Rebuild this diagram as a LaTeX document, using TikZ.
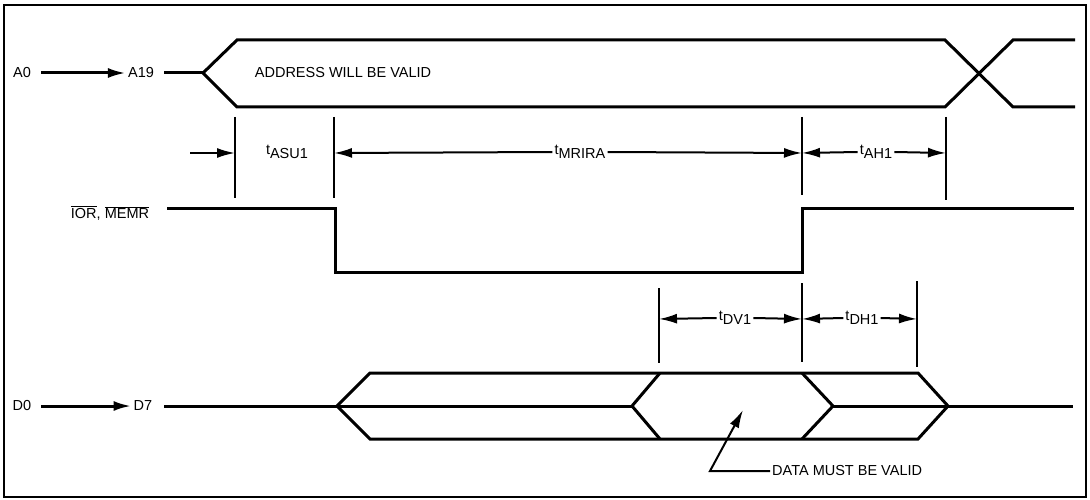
\documentclass[tikz,border=0pt]{standalone}
\usepackage{fontspec}
\setmainfont{Liberation Sans}
\usepackage{tikz}
\usetikzlibrary{arrows.meta,positioning}

% subscripted timing name, e.g. t_ASU1
\newcommand{\tname}[1]{t\raisebox{-0.5ex}{#1}}

\begin{document}
\begin{tikzpicture}[x=1pt, y=-1pt,
    every node/.style={font=\fontsize{14.5}{16}\selectfont, inner sep=2pt},
    sig/.style={line width=3pt, line join=miter},
    tick/.style={line width=2pt},
    dim/.style={line width=2pt, -{Latex[length=18pt,width=10pt]}},
    lead/.style={line width=3pt, shorten <=8pt, -{Latex[length=18pt,width=10pt]}}]

\useasboundingbox (0,0) rectangle (1090,500);

% Frame
\draw[line width=2.8pt] (4,5) rectangle (1086,497);

% Signal names
\node (a0) at (22,73) {A0};
\node (a19) at (141,73) {A19};
\draw[lead] (a0) -- (a19);
\node (ior) at (110,213) {$\overline{\mbox{IOR}}$, $\overline{\mbox{MEMR}}$};
\node (d0) at (22,406) {D0};
\node (d7) at (143,406) {D7};
\draw[lead] (d0) -- (d7);

% Address bus
\draw[sig] (a19.east) ++(8,0) -- (203,73);
\draw[sig] (203,73) -- (237,40) -- (945,40) -- (1013,107) -- (1075,107);
\draw[sig] (203,73) -- (237,107) -- (945,107) -- (1013,40) -- (1075,40);
\node (addr) at (343,73) {ADDRESS WILL BE VALID};

% IOR, MEMR strobe
\draw[sig] (167,208) -- (335,208) -- (335,272) -- (802,272) -- (802,208) -- (1074,208);

% Data bus
\draw[sig] (337,406) -- (370,373) -- (918,373) -- (948,406) -- (918,439) -- (370,439) -- cycle;
\draw[sig] (660,373) -- (632,406) -- (660,439);
\draw[sig] (802,373) -- (833,406) -- (802,439);
\draw[sig] (d7.east) ++(10,0) -- (632,406);
\draw[sig] (833,406) -- (1073,406);

% Timing ticks (top)
\foreach \x/\y in {235/198, 334/198, 802/195, 946/200}
    \draw[tick] (\x,117) -- (\x,\y);
% Timing ticks (bottom)
\foreach \x/\a/\b in {659/288/363, 802/283/362, 917/281/367}
    \draw[tick] (\x,\a) -- (\x,\b);

% Dimension points
\coordinate (asuL) at (235,153);
\coordinate (asuR) at (334,153);
\coordinate (ahR) at (946,153);
\coordinate (rdL) at (802,153);
\coordinate (dvL) at (659,319);
\coordinate (dvR) at (802,319);
\coordinate (dhR) at (917,319);

% Timing labels
\node (asu) at (287,152) {\tname{ASU1}};
\node (mrira) at (580,152) {\tname{MRIRA}};
\node (ah) at (876,152) {\tname{AH1}};
\node (dv) at (735,318) {\tname{DV1}};
\node (dh) at (862,318) {\tname{DH1}};

\draw[dim] (190,153) -- (asuL);
\draw[dim] (mrira.west) -- (asuR);
\draw[dim] (mrira.east) -- (rdL);
\draw[dim] (ah.west) -- (rdL);
\draw[dim] (ah.east) -- (ahR);
\draw[dim] (dv.west) -- (dvL);
\draw[dim] (dv.east) -- (dvR);
\draw[dim] (dh.west) -- (dvR);
\draw[dim] (dh.east) -- (dhR);

% Data valid note
\node[anchor=west] (valid) at (770,471) {DATA MUST BE VALID};
\coordinate (validtip) at (743,410);
\draw[dim] (valid.west) -- (710,471) -- (validtip);

\end{tikzpicture}
\end{document}
